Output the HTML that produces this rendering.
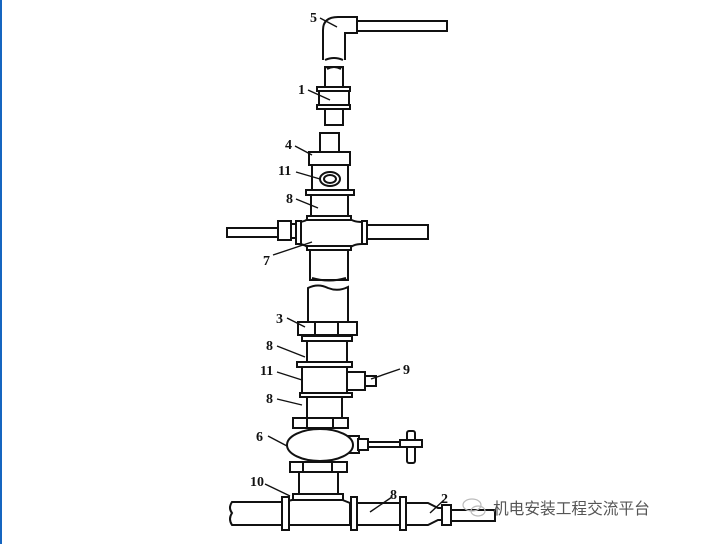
<!DOCTYPE html>
<html><head><meta charset="utf-8"><style>
html,body{margin:0;padding:0;background:#fff;width:701px;height:544px;overflow:hidden}
svg{display:block}
text{font-family:"Liberation Serif",serif;font-weight:bold;font-size:14px;fill:#111}
</style></head><body>
<svg width="701" height="544" viewBox="0 0 701 544" xmlns="http://www.w3.org/2000/svg">
<rect x="0" y="0" width="2" height="544" fill="#1565c0"/>
<g fill="#fff" stroke="#111" stroke-width="2">
<path d="M323 60 L323 30 Q323 17 338 17 L357 17 L357 33 L345 33 L345 60"/>
<rect x="357" y="21" width="90" height="10"/>
<path d="M325 60 Q334 56 343 60" fill="none"/>
<rect x="325" y="67" width="18" height="58"/>
<path d="M327 69 Q334 65 341 69" fill="none"/>
<rect x="319" y="87" width="30" height="22"/>
<rect x="317" y="87" width="33" height="4"/>
<rect x="317" y="105" width="33" height="4"/>
<rect x="320" y="133" width="19" height="20"/>
<rect x="309" y="152" width="41" height="13"/>
<rect x="312" y="165" width="36" height="25"/>
<ellipse cx="330" cy="179" rx="10" ry="7"/>
<ellipse cx="330" cy="179" rx="6" ry="4"/>
<rect x="306" y="190" width="48" height="5"/>
<rect x="311" y="195" width="37" height="22"/>
<rect x="227" y="228" width="52" height="9"/>
<rect x="278" y="221" width="13" height="19"/>
<rect x="291" y="224" width="6" height="14"/>
<rect x="366" y="225" width="62" height="14"/>
<path d="M310 217 L348 217 Q352 222 362 222 L362 244 Q352 244 348 250 L310 250 Q306 244 298 244 L298 222 Q306 222 310 217 Z"/>
<rect x="296" y="221" width="5" height="23"/>
<rect x="362" y="221" width="5" height="23"/>
<rect x="307" y="216" width="44" height="4"/>
<rect x="307" y="246" width="44" height="4"/>
<rect x="310" y="250" width="38" height="30"/>
<path d="M312 278 Q329 283 346 278" fill="none"/>
<path d="M308 322 L308 288 Q318 283 328 288 Q338 292 348 287 L348 322"/>
<rect x="298" y="322" width="59" height="13"/>
<line x1="315" y1="322" x2="315" y2="335"/><line x1="338" y1="322" x2="338" y2="335"/>
<rect x="302" y="336" width="50" height="5"/>
<rect x="307" y="341" width="40" height="21"/>
<rect x="297" y="362" width="55" height="5"/>
<rect x="302" y="367" width="45" height="26"/>
<rect x="347" y="372" width="18" height="18"/>
<rect x="365" y="376" width="11" height="10"/>
<rect x="300" y="393" width="52" height="4"/>
<rect x="307" y="397" width="35" height="21"/>
<rect x="293" y="418" width="55" height="10"/>
<line x1="307" y1="418" x2="307" y2="428"/><line x1="333" y1="418" x2="333" y2="428"/>
<rect x="347" y="436" width="12" height="17"/>
<rect x="358" y="439" width="10" height="11"/>
<rect x="368" y="442" width="37" height="5"/>
<rect x="407" y="431" width="8" height="32" rx="2"/>
<rect x="400" y="440" width="22" height="7"/>
<ellipse cx="320" cy="445" rx="33" ry="16"/>
<rect x="290" y="462" width="57" height="10"/>
<line x1="303" y1="462" x2="303" y2="472"/><line x1="332" y1="462" x2="332" y2="472"/>
<rect x="299" y="472" width="39" height="23"/>
<path d="M285 502 L232 502 Q228 508 232 513 Q228 519 232 525 L285 525"/>
<path d="M288 501 L296 499 L340 499 L350 503 L350 525 L288 525 Z"/>
<rect x="293" y="494" width="50" height="6"/>
<rect x="282" y="497" width="7" height="33"/>
<rect x="351" y="497" width="6" height="33"/>
<rect x="357" y="503" width="43" height="22"/>
<rect x="400" y="497" width="6" height="33"/>
<path d="M406 503 L428 503 L438 508 L442 508 L442 520 L438 520 L428 525 L406 525 Z"/>
<rect x="442" y="505" width="9" height="20"/>
<rect x="451" y="510" width="44" height="11"/>
</g>
<g stroke="#111" stroke-width="1.4" fill="none">
<line x1="320" y1="18" x2="337" y2="27"/>
<line x1="308" y1="90" x2="330" y2="100"/>
<line x1="295" y1="146" x2="312" y2="155"/>
<line x1="296" y1="172" x2="320" y2="179"/>
<line x1="296" y1="199" x2="318" y2="208"/>
<line x1="273" y1="255" x2="312" y2="242"/>
<line x1="287" y1="318" x2="305" y2="327"/>
<line x1="277" y1="346" x2="305" y2="357"/>
<line x1="277" y1="372" x2="302" y2="380"/>
<line x1="277" y1="399" x2="302" y2="405"/>
<line x1="268" y1="436" x2="287" y2="446"/>
<line x1="265" y1="484" x2="290" y2="496"/>
<line x1="371" y1="379" x2="400" y2="369"/>
<line x1="370" y1="512" x2="392" y2="497"/>
<line x1="430" y1="513" x2="444" y2="500"/>
</g>
<text x="310" y="22">5</text>
<text x="298" y="94">1</text>
<text x="285" y="149">4</text>
<text x="278" y="175">11</text>
<text x="286" y="203">8</text>
<text x="263" y="265">7</text>
<text x="276" y="323">3</text>
<text x="266" y="350">8</text>
<text x="260" y="375">11</text>
<text x="266" y="403">8</text>
<text x="256" y="441">6</text>
<text x="403" y="374">9</text>
<text x="250" y="486">10</text>
<text x="390" y="499">8</text>
<text x="441" y="503">2</text>
<g fill="none" stroke="#bbb" stroke-width="1.2">
<ellipse cx="472" cy="505" rx="9" ry="6"/><ellipse cx="478" cy="511" rx="7" ry="5"/>
</g>
<text x="493" y="514" style="font-family:'Liberation Sans','Noto Sans CJK SC',sans-serif;font-weight:normal;font-size:15.7px;fill:#555">机电安装工程交流平台</text>
</svg>
</body></html>
